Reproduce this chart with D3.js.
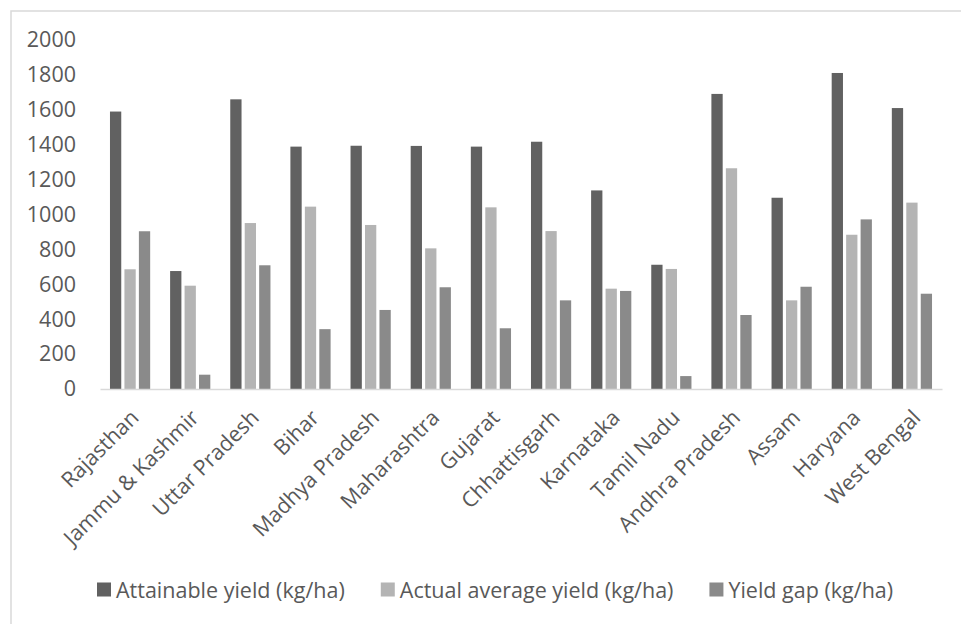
<!DOCTYPE html>
<html>
<head>
<meta charset="utf-8">
<script src="https://cdn.jsdelivr.net/npm/d3@7"></script>
<style>
  html, body { margin: 0; padding: 0; background: #fff; }
  text { font-family: "Open Sans", sans-serif; fill: #595959; }
</style>
</head>
<body>
<svg id="chart" width="961" height="624"></svg>
<script>
const categories = ["Rajasthan", "Jammu & Kashmir", "Uttar Pradesh", "Bihar", "Madhya Pradesh",
  "Maharashtra", "Gujarat", "Chhattisgarh", "Karnataka", "Tamil Nadu", "Andhra Pradesh",
  "Assam", "Haryana", "West Bengal"];
const attainable = [1590, 676, 1660, 1389, 1394, 1393, 1389, 1417, 1138, 712, 1691, 1096, 1811, 1610];
const actual =     [686, 592, 951, 1045, 940, 806, 1041, 905, 575, 688, 1265, 508, 884, 1068];
const gap =        [904, 82, 709, 343, 453, 583, 348, 508, 562, 74, 424, 586, 972, 546];
const seriesNames = ["Attainable yield (kg/ha)", "Actual average yield (kg/ha)", "Yield gap (kg/ha)"];
const seriesColors = ["#616161", "#b4b4b4", "#8a8a8a"];
const yTicks = [0, 200, 400, 600, 800, 1000, 1200, 1400, 1600, 1800, 2000];

const series = [attainable, actual, gap];
const svg = d3.select("#chart");
const FS = 21.5;

// frame
svg.append("path").attr("d", "M11,624 V11 H961")
  .attr("fill", "none").attr("stroke", "#d9d9d9").attr("stroke-width", 1.5);

const x = d3.scaleBand().domain(categories).range([100, 942]).paddingInner(0).paddingOuter(0);
const y = d3.scaleLinear().domain([0, 2000]).range([389, 40]);
const sub = d3.scaleBand().domain([0, 1, 2]).range([0, 40.2]).paddingInner(0.22).paddingOuter(0);
const groupOffset = (x.bandwidth() - 40.2) / 2;

// y axis labels
const yAxis = d3.axisLeft(y).tickValues(yTicks).tickSize(0).tickPadding(0).tickFormat(d3.format("d"));
const ya = svg.append("g").attr("transform", "translate(76,0)").call(yAxis);
ya.select(".domain").remove();
ya.selectAll("text").attr("font-size", FS).attr("fill", "#595959")
  .style("font-family", "'Open Sans', sans-serif");

// bars
const groups = svg.append("g").selectAll("g").data(categories).join("g")
  .attr("transform", d => `translate(${x(d) + groupOffset},0)`);
groups.selectAll("rect").data((d, i) => series.map((s, k) => ({k, v: s[i]})))
  .join("rect")
  .attr("x", d => sub(d.k))
  .attr("width", sub.bandwidth())
  .attr("y", d => y(d.v))
  .attr("height", d => y(0) - y(d.v))
  .attr("fill", d => seriesColors[d.k]);

// x axis line
const xAxis = d3.axisBottom(x).tickSize(0).tickFormat("");
const xa = svg.append("g").attr("transform", `translate(0,${y(0)})`).call(xAxis);
xa.select(".domain").attr("stroke", "#d9d9d9").attr("stroke-width", 1.5);

// category labels
svg.append("g").selectAll("text").data(categories).join("text")
  .attr("transform", d => `translate(${x(d) + x.bandwidth() / 2 + 10},${419}) rotate(-45)`)
  .attr("text-anchor", "end")
  .attr("font-size", FS)
  .text(d => d);

// legend
const leg = svg.append("g");
let lx = 97;
const ly = 590;
seriesNames.forEach((name, k) => {
  leg.append("rect").attr("x", lx).attr("y", ly - 7.5).attr("width", 14).attr("height", 14)
    .attr("fill", seriesColors[k]);
  const t = leg.append("text").attr("x", lx + 19).attr("y", ly).attr("dy", "0.35em")
    .attr("font-size", FS).text(name);
  const w = t.node().getComputedTextLength();
  lx = lx + 19 + w + 36;
});
</script>
</body>
</html>
